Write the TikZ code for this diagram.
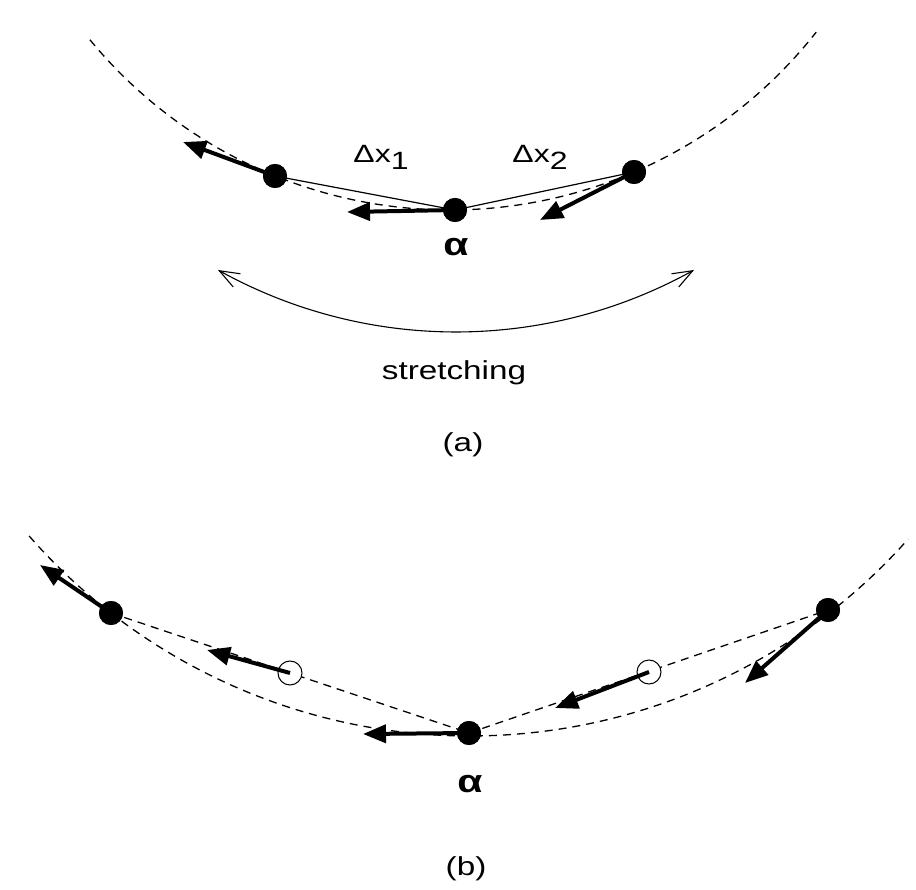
\documentclass[tikz,border=0pt]{standalone}
\usepackage{fontspec}
\usepackage{graphicx}
\setmainfont{Liberation Sans}
\usetikzlibrary{arrows.meta}
\newcommand{\widetext}[1]{\scalebox{1.28}[1]{#1}}
\begin{document}
\begin{tikzpicture}[x=1pt,y=-1pt,
  dot/.style={circle,fill=black,inner sep=0pt,minimum size=24pt},
  hollow/.style={circle,draw=black,fill=white,line width=1pt,inner sep=0pt,minimum size=24pt},
  force/.style={line width=4pt,-{Triangle[length=23pt,width=18pt]}},
  chord/.style={line width=1.2pt},
  guide/.style={line width=1.3pt,dash pattern=on 8pt off 6pt},
  stretcharrow/.style={line width=1.1pt,{Straight Barb[length=20pt,width=15pt,line width=1.1pt]}-{Straight Barb[length=20pt,width=15pt,line width=1.1pt]}},
  lbl/.style={inner sep=0pt,font=\fontsize{26}{30}\selectfont},
  dlbl/.style={inner sep=0pt,font=\fontsize{25}{29}\selectfont},
  albl/.style={inner sep=0pt,font=\fontsize{32}{36}\selectfont\bfseries}
]
\useasboundingbox (0,0) rectangle (916,890);

% ---------- (a) ----------
\draw[guide] plot[smooth,domain=140.6:38.2,samples=80] ({450+466*cos(\x)},{-256+466*sin(\x)});
\node[dot] (aL) at (275,176) {};
\node[dot] (aA) at (455,210) {};
\node[dot] (aR) at (634,172) {};
\draw[chord] (aL.center) -- (aA.center);
\draw[chord] (aA.center) -- (aR.center);
\coordinate (aLt) at (183,142);
\coordinate (aAt) at (347,212);
\coordinate (aRt) at (540,220);
\draw[force] (aL.center) -- (aLt);
\draw[force] (aA.center) -- (aAt);
\draw[force] (aR.center) -- (aRt);
\node[dot] at (aL) {};
\node[dot] at (aA) {};
\node[dot] at (aR) {};
\node[dlbl] (dx1) at (381,157) {\widetext{Δx\raisebox{-7pt}{1}}};
\node[dlbl] (dx2) at (540,157) {\widetext{Δx\raisebox{-7pt}{2}}};
\node[albl] (alphaA) at (456,247) {\widetext{α}};
\draw[stretcharrow] plot[smooth,domain=119.2:60.8,samples=60] ({456+488*cos(\x)},{-156+488*sin(\x)});
\node[lbl,anchor=base] (str) at (454,380) {\widetext{stretching}};
\node[lbl] (capA) at (463,445) {\widetext{(a)}};

% ---------- (b) ----------
\draw[guide] plot[smooth,domain=138.8:41.6,samples=80] ({470+586*cos(\x)},{150+586*sin(\x)});
\node[dot] (bL) at (111,613) {};
\node[dot] (bA) at (469,733) {};
\node[dot] (bR) at (828,610) {};
\draw[guide] (bL.center) -- (bA.center);
\draw[guide] (bA.center) -- (bR.center);
\node[hollow] (bM1) at (290,673) {};
\node[hollow] (bM2) at (649,672) {};
\coordinate (bLt) at (40,565);
\coordinate (bM1t) at (207,650);
\coordinate (bAt) at (363,734);
\coordinate (bM2t) at (555,708);
\coordinate (bRt) at (745,683);
\draw[force] (bL.center) -- (bLt);
\draw[force] (bM1.center) -- (bM1t);
\draw[force] (bA.center) -- (bAt);
\draw[force] (bM2.center) -- (bM2t);
\draw[force] (bR.center) -- (bRt);
\node[dot] at (bL) {};
\node[dot] at (bA) {};
\node[dot] at (bR) {};
\node[albl] (alphaB) at (470,784) {\widetext{α}};
\node[lbl] (capB) at (466,869) {\widetext{(b)}};
\end{tikzpicture}
\end{document}
